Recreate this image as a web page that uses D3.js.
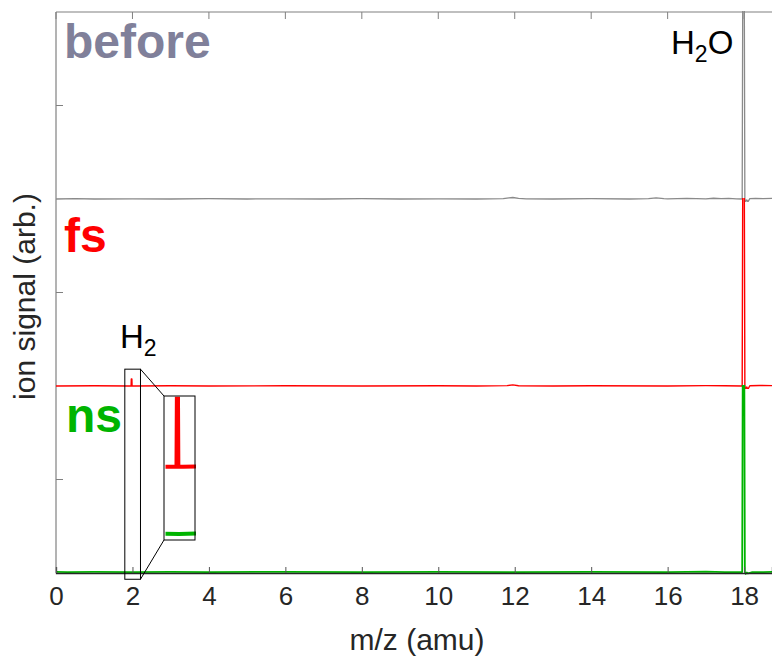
<!DOCTYPE html>
<html>
<head>
<meta charset="utf-8">
<script src="https://cdn.jsdelivr.net/npm/d3@7"></script>
<style>
  html, body { margin: 0; padding: 0; background: #fff; }
  svg { display: block; font-family: "Liberation Sans", Arial, Helvetica, sans-serif; }
</style>
</head>
<body>
<svg id="chart" width="772" height="656"></svg>
<script>
// ---------------- data (signal in arbitrary units, panel height = 2) ----------------
const xTicks = [0, 2, 4, 6, 8, 10, 12, 14, 16, 18];
const yTicks = [1, 3, 5];
const seriesNames = ["before", "fs", "ns"];

const mzBefore  = [0, 0.5, 1, 2, 3, 4, 5, 6, 7, 8, 9, 10, 11, 11.7, 11.85, 11.95, 12.1, 12.3, 13, 14, 15, 15.5, 15.7, 15.9, 16, 16.5, 17, 17.2, 17.4, 17.6, 17.8, 17.95, 17.97, 18.0, 18.02, 18.04, 18.07, 18.1, 18.15, 18.3, 18.5, 18.73];
const sigBefore = [0, 0.003, 0, 0.002, 0, 0.003, 0, 0.002, 0, 0.003, 0, 0.002, 0, 0.004, 0.012, 0.016, 0.006, 0.002, 0, 0.003, 0, 0.004, 0.012, 0.004, 0.002, 0.006, 0.002, 0.008, 0.003, 0.006, 0.002, 0.0, 3.0, 3.0, 0.0, -0.03, -0.01, -0.03, 0.004, 0.006, 0.004, 0.006];

const mzFs  = [0, 1, 1.9, 1.965, 1.97, 1.985, 1.99, 2.05, 3, 4, 6, 8, 10, 11, 11.8, 11.95, 12.1, 13, 14, 16, 17, 17.5, 17.95, 17.97, 18.0, 18.02, 18.04, 18.07, 18.1, 18.15, 18.4, 18.73];
const sigFs = [0, 0.002, 0, 0, 0.075, 0.075, 0, 0, 0.002, 0, 0.002, 0, 0.002, 0, 0.004, 0.012, 0.003, 0, 0.003, 0, 0.004, 0.002, 0, 3.0, 3.0, 0, -0.04, -0.01, -0.035, 0.003, 0.005, 0.004];

const mzNs  = [0, 0.3, 1, 2, 3, 4, 6, 8, 10, 12, 14, 16, 17, 17.5, 17.95, 17.97, 18.0, 18.02, 18.04, 18.07, 18.1, 18.2, 18.5, 18.73];
const sigNs = [0.012, 0.01, 0.012, 0.01, 0.012, 0.01, 0.012, 0.01, 0.012, 0.01, 0.012, 0.01, 0.014, 0.01, 0.01, 3.0, 3.0, 0.01, -0.01, 0.005, -0.005, 0.008, 0.01, 0.012];

// inset (zoom on H2 at m/z 2) — baseline offsets used in the inset
const insetXDomain = [1.80, 2.21];
const insetYDomain = [-0.0066, 0.152];
const insetOffsets = { fs: 0.074, ns: 0 };

// ---------------- layout ----------------
const svg = d3.select("#chart");
const plot = { left: 56, right: 772, top: 12, bottom: 573 };

const x = d3.scaleLinear().domain([0, 18.73]).range([plot.left, plot.right]);
const y = d3.scaleLinear().domain([0, 6]).range([plot.bottom, plot.top]);

const offsets = { before: 4, fs: 2, ns: 0 };
const colors = { before: "#8a8a8a", fs: "#ff0000", ns: "#00b400" };
const labelColors = { before: "#80809a", fs: "#ff0000", ns: "#00b400" };
const widths = { before: 1.3, fs: 1.4, ns: 1.8 };
const data = {
  before: mzBefore.map((m, i) => [m, sigBefore[i]]),
  fs: mzFs.map((m, i) => [m, sigFs[i]]),
  ns: mzNs.map((m, i) => [m, sigNs[i]])
};

const defs = svg.append("defs");
seriesNames.forEach(name => {
  const o = offsets[name];
  defs.append("clipPath").attr("id", "clip-" + name)
    .append("rect")
    .attr("x", plot.left).attr("width", plot.right - plot.left)
    .attr("y", y(o + 2) - 1).attr("height", y(o) - y(o + 2) + 4);
});

// axes lines
const axisG = svg.append("g");
axisG.append("line").attr("x1", plot.left).attr("x2", plot.right)
  .attr("y1", plot.top).attr("y2", plot.top).attr("stroke", "#808080").attr("stroke-width", 1.2);
axisG.append("line").attr("x1", plot.left).attr("x2", plot.left)
  .attr("y1", plot.top).attr("y2", plot.bottom).attr("stroke", "#808080").attr("stroke-width", 1.2);

axisG.selectAll(".ttick").data(xTicks).join("line")
  .attr("x1", d => x(d)).attr("x2", d => x(d))
  .attr("y1", plot.top).attr("y2", plot.top + 7)
  .attr("stroke", "#808080").attr("stroke-width", 1);
axisG.selectAll(".ltick").data(yTicks).join("line")
  .attr("x1", plot.left).attr("x2", plot.left + 7)
  .attr("y1", d => y(d)).attr("y2", d => y(d))
  .attr("stroke", "#808080").attr("stroke-width", 1);

// traces
const line = o => d3.line().x(d => x(d[0])).y(d => y(d[1] + o));
seriesNames.forEach(name => {
  svg.append("path")
    .datum(data[name])
    .attr("clip-path", "url(#clip-" + name + ")")
    .attr("fill", "none")
    .attr("stroke", colors[name])
    .attr("stroke-width", widths[name])
    .attr("stroke-linejoin", "round")
    .attr("d", line(offsets[name]));
});

// bottom axis
const xAxis = d3.axisBottom(x).tickValues(xTicks).tickSize(-6).tickPadding(14).tickFormat(d3.format("d"));
const gx = svg.append("g").attr("transform", `translate(0,${plot.bottom})`).call(xAxis);
gx.select(".domain").attr("stroke", "#262626").attr("stroke-width", 1.3);
gx.selectAll(".tick line").attr("stroke", "#555").attr("stroke-width", 1);
gx.selectAll(".tick text").attr("fill", "#262626").attr("font-size", 26)
  .attr("font-family", "'Liberation Sans', Arial, Helvetica, sans-serif");

// axis titles
svg.append("text").attr("x", (plot.left + plot.right) / 2 + 3).attr("y", 650)
  .attr("text-anchor", "middle").attr("font-size", 30).attr("fill", "#262626")
  .text("m/z (amu)");
svg.append("text").attr("transform", `translate(35,${(plot.top + plot.bottom) / 2 + 4}) rotate(-90)`)
  .attr("text-anchor", "middle").attr("font-size", 30).attr("fill", "#262626")
  .text("ion signal (arb.)");

// series labels
const labelPos = { before: [64, 58], fs: [64, 252], ns: [66, 432] };
seriesNames.forEach(name => {
  svg.append("text").attr("x", labelPos[name][0]).attr("y", labelPos[name][1])
    .attr("font-size", 48).attr("font-weight", "bold").attr("fill", labelColors[name])
    .text(name);
});

// peak labels
function chem(xp, yp, parts) {
  const t = svg.append("text").attr("x", xp).attr("y", yp).attr("font-size", 33).attr("fill", "#000");
  parts.forEach(p => {
    const s = t.append("tspan").text(p.t);
    if (p.sub) s.attr("font-size", 23).attr("dy", 8);
    if (p.up) s.attr("dy", -8);
  });
}
chem(671, 54, [{ t: "H" }, { t: "2", sub: true }, { t: "O", up: true }]);
chem(120, 348, [{ t: "H" }, { t: "2", sub: true }]);

// zoom box on main plot
const zx0 = x(insetXDomain[0]), zx1 = x(insetXDomain[1]);
const zy0 = y(2.18), zy1 = y(-0.067);
svg.append("rect").attr("x", zx0).attr("y", zy0).attr("width", zx1 - zx0).attr("height", zy1 - zy0)
  .attr("fill", "none").attr("stroke", "#000").attr("stroke-width", 1);

// inset
const inset = { left: 164, right: 195, top: 396, bottom: 540 };
const ix = d3.scaleLinear().domain(insetXDomain).range([inset.left, inset.right]);
const iy = d3.scaleLinear().domain(insetYDomain).range([inset.bottom, inset.top]);
defs.append("clipPath").attr("id", "clip-inset").append("rect")
  .attr("x", inset.left + 1.5).attr("y", inset.top).attr("width", inset.right - inset.left - 0.5)
  .attr("height", inset.bottom - inset.top);
svg.append("rect").attr("x", inset.left).attr("y", inset.top)
  .attr("width", inset.right - inset.left).attr("height", inset.bottom - inset.top)
  .attr("fill", "#fff").attr("stroke", "none");
["fs", "ns"].forEach(name => {
  svg.append("path").datum(data[name])
    .attr("clip-path", "url(#clip-inset)")
    .attr("fill", "none").attr("stroke", colors[name]).attr("stroke-width", 4)
    .attr("d", d3.line().x(d => ix(d[0])).y(d => iy(d[1] - (name === "ns" ? 0.01 : 0) + insetOffsets[name])));
});
svg.append("rect").attr("x", inset.left).attr("y", inset.top)
  .attr("width", inset.right - inset.left).attr("height", inset.bottom - inset.top)
  .attr("fill", "none").attr("stroke", "#000").attr("stroke-width", 1);

// connector lines
svg.append("line").attr("x1", zx1).attr("y1", zy0).attr("x2", inset.left).attr("y2", inset.top)
  .attr("stroke", "#000").attr("stroke-width", 1);
svg.append("line").attr("x1", zx1).attr("y1", zy1).attr("x2", inset.left).attr("y2", inset.bottom)
  .attr("stroke", "#000").attr("stroke-width", 1);
</script>
</body>
</html>
